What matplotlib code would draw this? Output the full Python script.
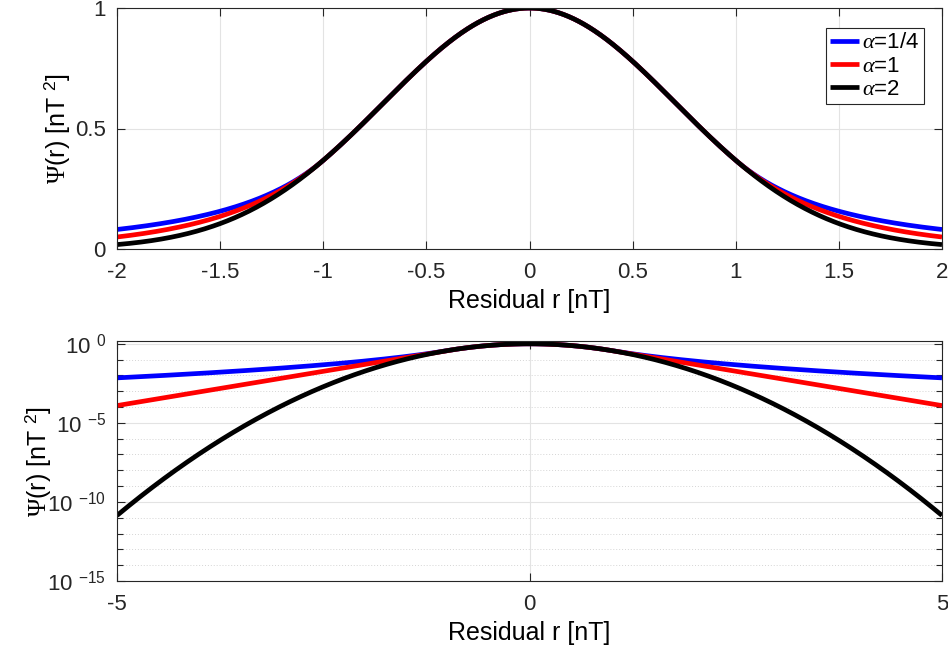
import numpy as np
import matplotlib
matplotlib.use("Agg")
import matplotlib.pyplot as plt
from matplotlib.ticker import NullFormatter

plt.rcParams['font.family'] = ['Liberation Sans', 'DejaVu Sans']
plt.rcParams['mathtext.fontset'] = 'custom'
plt.rcParams['mathtext.rm'] = 'Liberation Sans'
plt.rcParams['mathtext.it'] = 'Liberation Serif:italic'
plt.rcParams['mathtext.sf'] = 'Liberation Serif'
plt.rcParams['mathtext.bf'] = 'Liberation Sans:bold'

# shape parameters of the robust kernel
alphas = [0.25, 1.0, 2.0]
legend_labels = [r'$\alpha$=1/4', r'$\alpha$=1', r'$\alpha$=2']
colors = ['#0000ff', '#ff0000', '#000000']

top_xticks = [-2, -1.5, -1, -0.5, 0, 0.5, 1, 1.5, 2]
top_xticklabels = ['-2', '-1.5', '-1', '-0.5', '0', '0.5', '1', '1.5', '2']
top_yticks = [0, 0.5, 1]
top_yticklabels = ['0', '0.5', '1']
bot_xticks = [-5, 0, 5]
bot_xticklabels = ['-5', '0', '5']
bot_yexps = [0, -5, -10, -15]


def psi(r, a):
    """Quadratic core for |r|<=1, power-law tail of order alpha outside."""
    ar = np.abs(r)
    rho = np.where(ar <= 1, r ** 2, (2.0 / a) * ar ** a - (2.0 / a - 1.0))
    return np.exp(-rho)


spine_col = '#262626'
grid_col = '#e3e3e3'
tick_fs = 16
label_fs = 18
ylab = r'$\mathsf{\Psi}$(r) [nT $^{2}$]'

W, H = 948, 657
fig = plt.figure(figsize=(W / 100, H / 100), dpi=100)
ax1 = fig.add_axes([117 / W, 1 - 249 / H, 825 / W, 241 / H])
ax2 = fig.add_axes([117 / W, 1 - 581 / H, 825 / W, 240 / H])

r1 = np.linspace(-2, 2, 801)
r2 = np.linspace(-5, 5, 1001)

for a, lab, c in zip(alphas, legend_labels, colors):
    ax1.plot(r1, psi(r1, a), color=c, lw=3.4, label=lab, solid_capstyle='butt')
    ax2.plot(r2, psi(r2, a), color=c, lw=3.4, solid_capstyle='butt')

# upper panel (linear)
ax1.set_xlim(-2, 2)
ax1.set_ylim(0, 1)
ax1.set_xticks(top_xticks)
ax1.set_xticklabels(top_xticklabels)
ax1.set_yticks(top_yticks)
ax1.set_yticklabels(top_yticklabels)
ax1.grid(True, color=grid_col, lw=0.8)
ax1.set_xlabel('Residual r [nT]', fontsize=label_fs, labelpad=5)
ax1.set_ylabel(ylab, fontsize=label_fs)
ax1.yaxis.set_label_coords(-0.054, 0.5)
leg = ax1.legend(loc='upper right', bbox_to_anchor=(0.978, 0.917), fontsize=16,
                 handlelength=1.3, handletextpad=0.15, borderpad=0.2,
                 labelspacing=0.1, fancybox=False, framealpha=1,
                 borderaxespad=0)
leg.get_frame().set_edgecolor('#262626')
leg.get_frame().set_linewidth(0.8)

# lower panel (logarithmic)
ax2.set_yscale('log')
ax2.set_xlim(-5, 5)
ax2.set_ylim(1e-15, 1.5)
ax2.set_xticks(bot_xticks)
ax2.set_xticklabels(bot_xticklabels)
ax2.set_yticks([10.0 ** e for e in bot_yexps])
ax2.set_yticklabels(['10 $^{%d}$' % e for e in bot_yexps])
ax2.set_yticks([10.0 ** e for e in range(-14, 1) if e % 5 != 0], minor=True)
ax2.yaxis.set_minor_formatter(NullFormatter())
ax2.grid(True, which='major', color=grid_col, lw=0.8)
ax2.grid(True, which='minor', axis='y', color='#d5d5d5', lw=0.7, ls=(0, (1, 2)))
ax2.set_xlabel('Residual r [nT]', fontsize=label_fs, labelpad=5)
ax2.set_ylabel(ylab, fontsize=label_fs)
ax2.yaxis.set_label_coords(-0.078, 0.5)

for ax in (ax1, ax2):
    ax.set_axisbelow(True)
    for s in ax.spines.values():
        s.set_color(spine_col)
        s.set_linewidth(0.8)
    ax.tick_params(which='both', direction='in', top=True, right=True,
                   colors=spine_col, labelsize=tick_fs, labelcolor='#262626',
                   width=0.8)
    ax.tick_params(which='major', length=6)
    ax.tick_params(which='minor', length=4)
    ax.tick_params(axis='x', pad=9)
    ax.tick_params(axis='y', pad=8)

fig.savefig('out.png', dpi=100)
